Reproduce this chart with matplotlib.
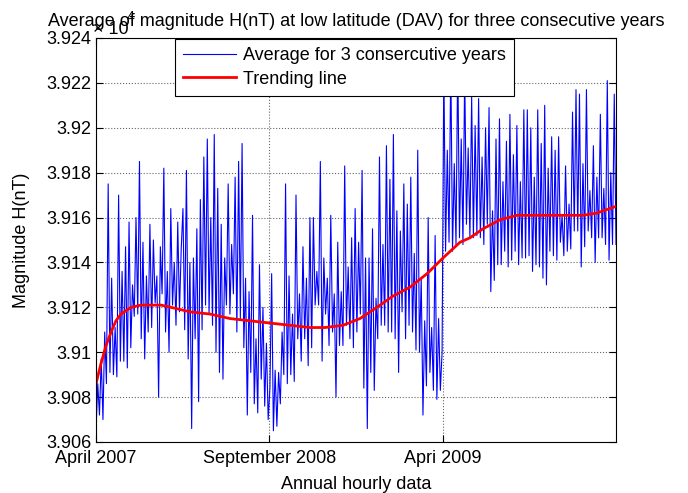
import matplotlib
matplotlib.use("Agg")
import matplotlib.pyplot as plt
from matplotlib.ticker import FuncFormatter, MultipleLocator
import numpy as np

plt.rcParams['font.family'] = ['Liberation Sans', 'DejaVu Sans']

# hourly-average magnitude H (nT)
h_2007_2008 = [
    39065, 39086, 39072, 39097, 39070, 39109, 39086, 39175, 39091, 39133,
    39090, 39111, 39089, 39170, 39096, 39136, 39096, 39147, 39093, 39158,
    39102, 39130, 39116, 39160, 39117, 39185, 39106, 39149, 39097, 39134,
    39109, 39157, 39111, 39150, 39122, 39134, 39080, 39147, 39126, 39182,
    39109, 39136, 39100, 39164, 39121, 39140, 39112, 39158, 39118, 39146,
    39164, 39110, 39181, 39097, 39140, 39066, 39142, 39106, 39155, 39078,
    39168, 39110, 39187, 39121, 39195, 39117, 39160, 39112, 39197, 39100,
    39173, 39091, 39157, 39088, 39142, 39121, 39175, 39117, 39148, 39126,
    39178, 39109, 39185, 39115, 39193, 39102, 39133, 39072, 39127, 39091,
    39161, 39077, 39106, 39073, 39139, 39088, 39120, 39076, 39104, 39070]
h_2008_2009 = [
    39084, 39135, 39065, 39092, 39067, 39091, 39077, 39109, 39090, 39175,
    39086, 39134, 39090, 39117, 39087, 39170, 39106, 39126, 39096, 39147,
    39106, 39133, 39094, 39160, 39102, 39160, 39121, 39136, 39121, 39185,
    39096, 39142, 39117, 39133, 39103, 39161, 39109, 39126, 39080, 39149,
    39103, 39127, 39103, 39183, 39112, 39138, 39106, 39151,
    39102, 39164, 39109, 39149, 39117, 39181, 39084, 39142, 39066, 39142,
    39091, 39155, 39083, 39124, 39106, 39187, 39112, 39148, 39112, 39192,
    39109, 39177, 39109, 39197, 39106, 39163, 39091, 39154, 39118, 39175,
    39106, 39166, 39112, 39178, 39109, 39144, 39101, 39190, 39100, 39133,
    39072, 39114, 39085, 39160, 39091, 39111, 39083, 39152,
    39079, 39115, 39083, 39100]
h_2009_2010 = [
    39228, 39145, 39190, 39149, 39230, 39145, 39184, 39148, 39232, 39151,
    39195, 39148, 39225, 39157, 39191, 39151, 39214, 39151, 39201, 39152,
    39213, 39151, 39187, 39148, 39200, 39157, 39209, 39127, 39163, 39132,
    39195, 39139, 39204, 39139, 39176, 39145, 39194, 39138, 39206, 39141,
    39188, 39145, 39201, 39139, 39176, 39142, 39208, 39142,
    39208, 39143, 39200, 39136, 39178, 39139, 39208, 39138, 39193, 39133,
    39210, 39130, 39182, 39145, 39196, 39143, 39190, 39141, 39196, 39149,
    39161, 39143, 39183, 39145, 39166, 39146, 39207, 39154, 39217, 39154,
    39215, 39138, 39184, 39147, 39217, 39154, 39172, 39151, 39192, 39140,
    39178, 39151, 39206, 39151, 39173, 39148, 39221, 39141, 39180, 39148,
    39215, 39148]

# trend line samples (position in years from April 2007, nT)
trend_x = [0, 0.029, 0.058, 0.087, 0.115, 0.144, 0.202, 0.26, 0.317, 0.375,
           0.433, 0.542, 0.658, 0.773, 0.888, 1.004, 1.119, 1.235, 1.321,
           1.425, 1.523, 1.621, 1.713, 1.812, 1.910, 2.002, 2.1, 2.158,
           2.233, 2.331, 2.429, 2.521, 2.619, 2.717, 2.81, 2.89, 3.0]
trend_h = [39086, 39095, 39103, 39109, 39114, 39117, 39120, 39121, 39121,
           39121, 39120, 39118, 39117, 39115, 39114, 39113, 39112, 39111,
           39111, 39112, 39115, 39120, 39125, 39129, 39135, 39142, 39149,
           39151, 39155, 39159, 39161, 39161, 39161, 39161, 39161, 39162,
           39165]

tick_pos = [0, 1, 2]
tick_labels = ['April 2007', 'September 2008', 'Apri 2009']

h = np.array(h_2007_2008 + h_2008_2009 + h_2009_2010)
x = np.linspace(0, 3, len(h))

fig = plt.figure(figsize=(6.88, 4.93), dpi=100)
ax = fig.add_axes([96/688, 1-442/493, 520/688, 404/493])

ax.plot(x, h, color='b', lw=0.8, label='Average for 3 consercutive years')
ax.plot(trend_x, trend_h, color='r', lw=2, label='Trending line')

ax.set_xlim(0, 3)
ax.set_ylim(39060, 39240)
ax.yaxis.set_major_locator(MultipleLocator(20))
ax.yaxis.set_major_formatter(FuncFormatter(lambda v, p: '%g' % round(v / 1e4, 4)))
ax.set_xticks(tick_pos)
ax.set_xticklabels(tick_labels)
ax.grid(True, linestyle=':', color='k', lw=0.8, alpha=0.6)
ax.tick_params(direction='in', top=True, right=True, labelsize=13, length=5, pad=3)
ax.tick_params(axis='x', pad=6)
for s in ax.spines.values():
    s.set_linewidth(0.8)

ax.set_xlabel('Annual hourly data', fontsize=13, labelpad=6)
ax.set_ylabel('Magnitude H(nT)', fontsize=13, labelpad=12)
ax.set_title('Average of magnitude H(nT) at low latitude (DAV) for three consecutive years',
             fontsize=13, pad=9)
ax.text(-0.005, 1.0, '× 10', transform=ax.transAxes, fontsize=13, ha='left', va='bottom')
ax.text(0.058, 1.035, '4', transform=ax.transAxes, fontsize=10, ha='left', va='bottom')

leg = ax.legend(loc='upper left', bbox_to_anchor=(0.152, 0.997), fontsize=13,
                fancybox=False, framealpha=1, edgecolor='k', handlelength=2.9,
                borderpad=0.45, labelspacing=0.35, handletextpad=0.4, borderaxespad=0)
leg.get_frame().set_linewidth(0.8)

fig.savefig('out.png', dpi=100)
